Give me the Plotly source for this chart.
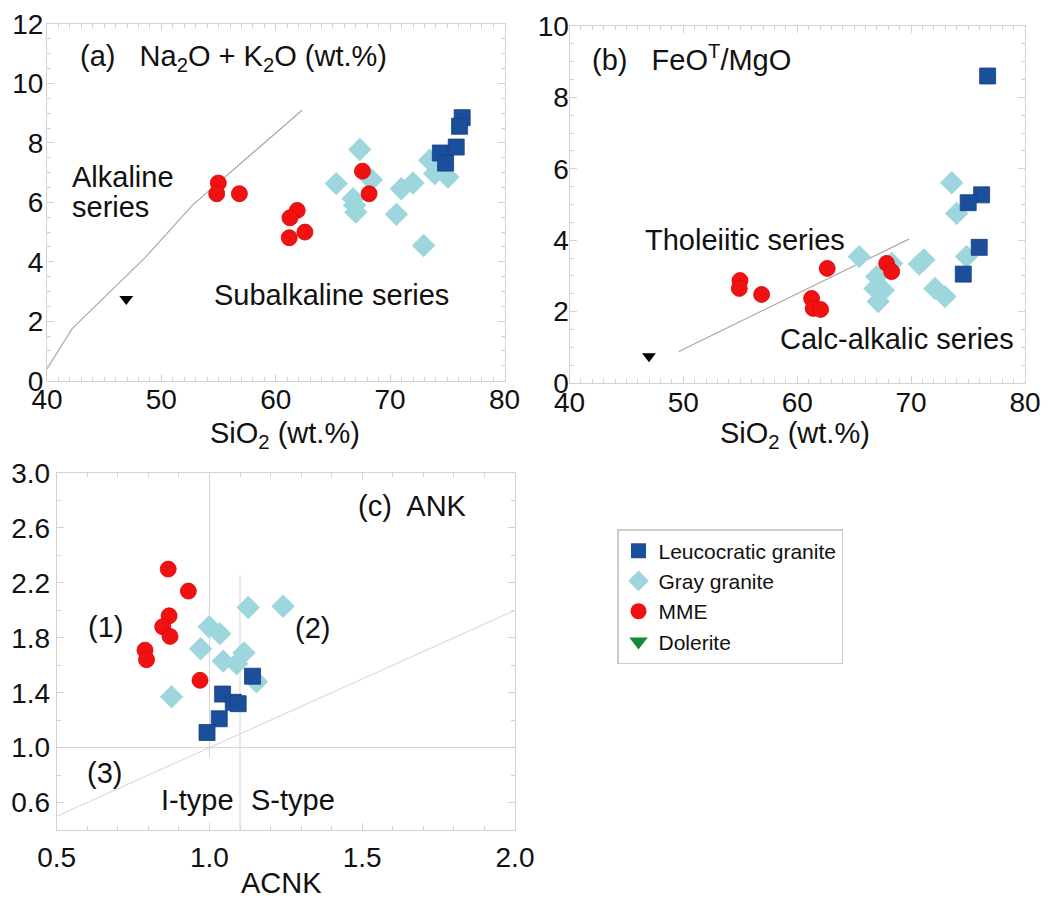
import plotly.graph_objects as go

# ---------------- data ----------------
# Panel (a): SiO2 (wt.%) vs Na2O + K2O (wt.%)
leuco_a_sio2 = [76.30, 76.07, 75.78, 74.39, 74.85]
leuco_a_alk = [8.85, 8.56, 7.86, 7.66, 7.32]
gray_a_sio2 = [67.35, 65.29, 68.37, 66.76, 66.90, 67.00, 70.98, 72.00, 70.55, 72.93, 73.45, 73.90, 75.05]
gray_a_alk = [7.78, 6.63, 6.76, 6.12, 5.90, 5.67, 6.46, 6.65, 5.60, 4.55, 7.42, 6.97, 6.85]
mme_a_sio2 = [54.98, 54.84, 56.82, 61.88, 61.24, 61.18, 62.55, 67.58, 68.16]
mme_a_alk = [6.65, 6.29, 6.29, 5.73, 5.48, 4.81, 5.00, 7.05, 6.29]
dol_a_sio2 = [46.93]
dol_a_alk = [2.75]
bound_a_sio2 = [40.0, 42.2, 48.6, 52.7, 62.3]
bound_a_alk = [0.40, 1.75, 4.15, 5.90, 9.10]

# Panel (b): SiO2 (wt.%) vs FeOT/MgO
leuco_b_sio2 = [76.72, 76.19, 75.01, 75.98, 74.58]
leuco_b_ratio = [8.60, 5.27, 5.05, 3.80, 3.05]
gray_b_sio2 = [73.56, 74.00, 65.44, 70.71, 71.12, 66.97, 66.82, 67.55, 67.11, 68.29, 72.09, 72.97, 74.87]
gray_b_ratio = [5.61, 4.75, 3.54, 3.33, 3.45, 2.98, 2.65, 2.60, 2.28, 3.35, 2.65, 2.42, 3.54]
mme_b_sio2 = [54.97, 54.91, 56.87, 62.63, 61.26, 61.40, 62.05, 67.85, 68.29]
mme_b_ratio = [2.87, 2.65, 2.48, 3.21, 2.37, 2.09, 2.06, 3.35, 3.12]
dol_b_sio2 = [46.98]
dol_b_ratio = [0.75]
bound_b_sio2 = [49.6, 69.8]
bound_b_ratio = [0.88, 4.03]

# Panel (c): ACNK vs ANK
leuco_c_acnk = [1.141, 1.043, 1.078, 1.094, 1.032, 0.992]
leuco_c_ank = [1.52, 1.39, 1.33, 1.32, 1.21, 1.11]
gray_c_acnk = [1.127, 1.241, 0.999, 1.034, 0.971, 1.045, 1.089, 1.113, 0.876, 1.154]
gray_c_ank = [2.02, 2.03, 1.88, 1.83, 1.72, 1.63, 1.61, 1.69, 1.37, 1.48]
mme_c_acnk = [0.865, 0.931, 0.868, 0.847, 0.871, 0.789, 0.794, 0.969]
mme_c_ank = [2.30, 2.14, 1.96, 1.88, 1.81, 1.71, 1.64, 1.49]
vline1_acnk = [1.0, 1.0]
vline1_ank = [0.93, 3.0]
vline2_acnk = [1.1, 1.1]
vline2_ank = [0.4, 2.26]
hline_acnk = [0.5, 2.0]
hline_ank = [1.0, 1.0]
diag_acnk = [0.5, 2.0]
diag_ank = [0.5, 2.0]

series_names = ["Leucocratic granite", "Gray granite", "MME", "Dolerite"]

# ---------------- style ----------------
OFF = 8                      # page body margin
W, H = 1054 - OFF, 899 - OFF
FONT = "Arial, Liberation Sans, Helvetica, sans-serif"
C_LEUCO = "#1c4f9b"
C_GRAY = "#9dd6dd"
C_MME = "#f01212"
C_DOL_LEG = "#15883a"
LINECOL = "#d2d2d2"


def dx(l, r):
    return [(l - OFF) / W, (r - OFF) / W]


def dy(t, b):
    return [1 - (b - OFF) / H, 1 - (t - OFF) / H]


def px(x):
    return (x - OFF) / W


def py(y):
    return 1 - (y - OFF) / H


fig = go.Figure()


def add_panel(xa, ya, gx, gy, mx, my, lx, ly, dolx=None, doly=None):
    fig.add_trace(go.Scatter(x=gx, y=gy, mode="markers", xaxis=xa, yaxis=ya, showlegend=False,
                             marker=dict(symbol="diamond", size=18, color=C_GRAY, line=dict(width=0))))
    fig.add_trace(go.Scatter(x=mx, y=my, mode="markers", xaxis=xa, yaxis=ya, showlegend=False,
                             marker=dict(symbol="circle", size=16, color=C_MME, line=dict(width=0.8, color="#e00000"))))
    fig.add_trace(go.Scatter(x=lx, y=ly, mode="markers", xaxis=xa, yaxis=ya, showlegend=False,
                             marker=dict(symbol="square", size=16, color=C_LEUCO, line=dict(width=0.8, color="#163f80"))))
    if dolx is not None:
        fig.add_trace(go.Scatter(x=dolx, y=doly, mode="markers", xaxis=xa, yaxis=ya, showlegend=False,
                                 marker=dict(symbol="triangle-down", size=12, color="#000000")))


def add_line(xa, ya, x, y, color="#a8a8a8", width=1.2):
    fig.add_trace(go.Scatter(x=x, y=y, mode="lines", xaxis=xa, yaxis=ya, showlegend=False,
                             hoverinfo="skip", line=dict(color=color, width=width)))


# panel a
add_line("x", "y", bound_a_sio2, bound_a_alk)
add_panel("x", "y", gray_a_sio2, gray_a_alk, mme_a_sio2, mme_a_alk, leuco_a_sio2, leuco_a_alk, dol_a_sio2, dol_a_alk)
# panel b
add_line("x2", "y2", bound_b_sio2, bound_b_ratio)
add_panel("x2", "y2", gray_b_sio2, gray_b_ratio, mme_b_sio2, mme_b_ratio, leuco_b_sio2, leuco_b_ratio, dol_b_sio2, dol_b_ratio)
# panel c
for lxv, lyv in [(vline1_acnk, vline1_ank), (vline2_acnk, vline2_ank), (hline_acnk, hline_ank), (diag_acnk, diag_ank)]:
    add_line("x3", "y3", lxv, lyv, color="#d4d4d4", width=1)
add_panel("x3", "y3", gray_c_acnk, gray_c_ank, mme_c_acnk, mme_c_ank, leuco_c_acnk, leuco_c_ank)

# legend-only entries
leg_styles = [
    dict(symbol="square", size=15, color=C_LEUCO),
    dict(symbol="diamond", size=16, color=C_GRAY),
    dict(symbol="circle", size=16, color=C_MME),
    dict(symbol="triangle-down", size=16, color=C_DOL_LEG),
]
for name, st in zip(series_names, leg_styles):
    fig.add_trace(go.Scatter(x=[None], y=[None], mode="markers", name=name, xaxis="x3", yaxis="y3",
                             marker=st, showlegend=True))


def axis(domain, rng, dtick, minor_dtick, anchor, tickformat=None, tick0=None, standoff_lbl=0):
    d = dict(domain=domain, range=rng, dtick=dtick, anchor=anchor, showline=True, linecolor=LINECOL,
             linewidth=1, mirror="allticks", ticks="inside", ticklen=7, tickcolor=LINECOL, tickwidth=1,
             showgrid=False, zeroline=False, automargin=False, ticklabelstandoff=standoff_lbl,
             tickfont=dict(family=FONT, size=28, color="#111111"),
             minor=dict(ticks="inside", ticklen=4, tickcolor=LINECOL, dtick=minor_dtick, showgrid=False))
    if tickformat:
        d["tickformat"] = tickformat
    if tick0 is not None:
        d["tick0"] = tick0
    return d


fig.update_layout(
    width=W, height=H,
    margin=dict(l=0, r=0, t=0, b=0, autoexpand=False),
    paper_bgcolor="white", plot_bgcolor="white",
    font=dict(family=FONT, color="#111111"),
    xaxis=axis(dx(47, 504.5), [40, 80], 10, 1, "y", standoff_lbl=-6),
    yaxis=axis(dy(24, 380.7), [0, 12], 2, 0.5, "x", standoff_lbl=-3),
    xaxis2=axis(dx(569.5, 1025), [40, 80], 10, 1, "y2", standoff_lbl=-6),
    yaxis2=axis(dy(26, 383), [0, 10], 2, 0.5, "x2", standoff_lbl=-6),
    xaxis3=axis(dx(56.7, 515), [0.5, 2.0], 0.5, 0.1, "y3", tickformat=".1f", standoff_lbl=2),
    yaxis3=axis(dy(473, 830), [0.4, 3.0], 0.4, 0.2, "x3", tickformat=".1f", tick0=0.6),
    legend=dict(x=(617 - OFF) / W, y=1 - (529 - OFF) / H, xanchor="left", yanchor="top",
                bordercolor="#cccccc", borderwidth=1.5, bgcolor="white",
                font=dict(family=FONT, size=21, color="#111111"), itemsizing="trace"),
    showlegend=True,
)

ann_font = dict(family=FONT, size=29, color="#111111")
annots = [
    ("x", "y", 42.71, 10.86, "(a)&nbsp;&nbsp; Na<sub>2</sub>O + K<sub>2</sub>O (wt.%)"),
    ("x", "y", 42.0, 6.85, "Alkaline"),
    ("x", "y", 42.0, 5.84, "series"),
    ("x", "y", 54.4, 2.88, "Subalkaline series"),
    ("x2", "y2", 41.8, 9.10, "(b)&nbsp;&nbsp; FeO<sup>T</sup>/MgO"),
    ("x2", "y2", 46.44, 4.01, "Tholeiitic series"),
    ("x2", "y2", 58.28, 1.23, "Calc-alkalic series"),
    ("x3", "y3", 1.478, 2.76, "(c)&nbsp; ANK"),
    ("x3", "y3", 0.596, 1.88, "(1)"),
    ("x3", "y3", 1.273, 1.87, "(2)"),
    ("x3", "y3", 0.594, 0.815, "(3)"),
    ("x3", "y3", 0.836, 0.62, "I-type"),
    ("x3", "y3", 1.129, 0.62, "S-type"),
]
for xr, yr, xv, yv, txt in annots:
    fig.add_annotation(x=xv, y=yv, xref=xr, yref=yr, text=txt, showarrow=False, xanchor="left",
                       yanchor="middle", font=ann_font)

# axis titles (placed as paper annotations)
titles = [
    (285, 435, "SiO<sub>2</sub> (wt.%)"),
    (795, 435, "SiO<sub>2</sub> (wt.%)"),
    (281, 883, "ACNK"),
]
for tx, ty, txt in titles:
    fig.add_annotation(x=px(tx), y=py(ty), xref="paper", yref="paper", text=txt, showarrow=False,
                       xanchor="center", yanchor="middle", font=ann_font)

fig.write_html("out.html")
